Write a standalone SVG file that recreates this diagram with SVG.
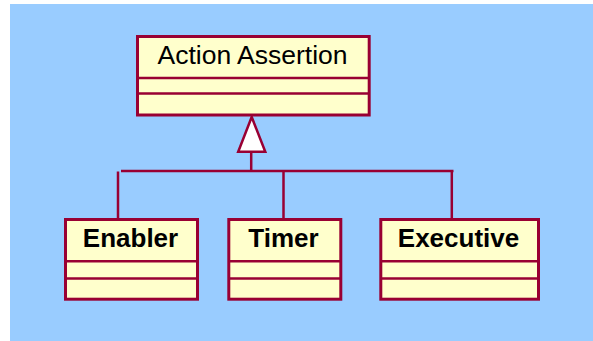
<svg xmlns="http://www.w3.org/2000/svg" width="593" height="341" viewBox="0 0 593 341">
  <style>
    .cls { fill: #FFFFCC; stroke: #990033; stroke-width: 3; }
    .div { stroke: #990033; stroke-width: 2.5; fill: none; }
    .link { stroke: #990033; stroke-width: 2.5; fill: none; }
    .name { font-family: "Liberation Sans", Arial, sans-serif; font-size: 26.5px; fill: #000; text-anchor: middle; }
    .bold { font-weight: bold; font-size: 26px; }
  </style>
  <rect x="0" y="0" width="593" height="341" fill="#FFFFFF"/>
  <rect x="10" y="4" width="583" height="337" fill="#99CCFF"/>

  <!-- generalization connectors -->
  <g id="connectors">
    <line class="link" x1="251.2" y1="151" x2="251.2" y2="171"/>
    <line class="link" x1="121" y1="171" x2="453.5" y2="171"/>
    <line class="link" x1="118" y1="171.5" x2="118" y2="218"/>
    <line class="link" x1="283.5" y1="171" x2="283.5" y2="218"/>
    <line class="link" x1="451.8" y1="171" x2="451.8" y2="218"/>
    <polygon points="251.7,117 238.2,151.8 265.3,151.8" fill="#FFFFFF" stroke="#990033" stroke-width="2.5" stroke-linejoin="miter"/>
  </g>

  <g id="action-assertion">
    <rect class="cls" x="137.5" y="36.5" width="231.7" height="78.5"/>
    <line class="div" x1="137.5" y1="78" x2="369.2" y2="78"/>
    <line class="div" x1="137.5" y1="93.5" x2="369.2" y2="93.5"/>
    <text class="name" x="252.5" y="63.5">Action Assertion</text>
  </g>

  <g id="enabler">
    <rect class="cls" x="65.5" y="219.5" width="132" height="79.7"/>
    <line class="div" x1="65.5" y1="261.2" x2="197.5" y2="261.2"/>
    <line class="div" x1="65.5" y1="278.5" x2="197.5" y2="278.5"/>
    <text class="name bold" x="130.5" y="246.8">Enabler</text>
  </g>

  <g id="timer">
    <rect class="cls" x="228.8" y="219.5" width="112" height="79.7"/>
    <line class="div" x1="228.8" y1="261.2" x2="340.8" y2="261.2"/>
    <line class="div" x1="228.8" y1="278.5" x2="340.8" y2="278.5"/>
    <text class="name bold" x="283.5" y="246.8">Timer</text>
  </g>

  <g id="executive">
    <rect class="cls" x="380.8" y="219.5" width="157.7" height="79.7"/>
    <line class="div" x1="380.8" y1="261.2" x2="538.5" y2="261.2"/>
    <line class="div" x1="380.8" y1="278.5" x2="538.5" y2="278.5"/>
    <text class="name bold" x="458.5" y="246.8">Executive</text>
  </g>
</svg>
